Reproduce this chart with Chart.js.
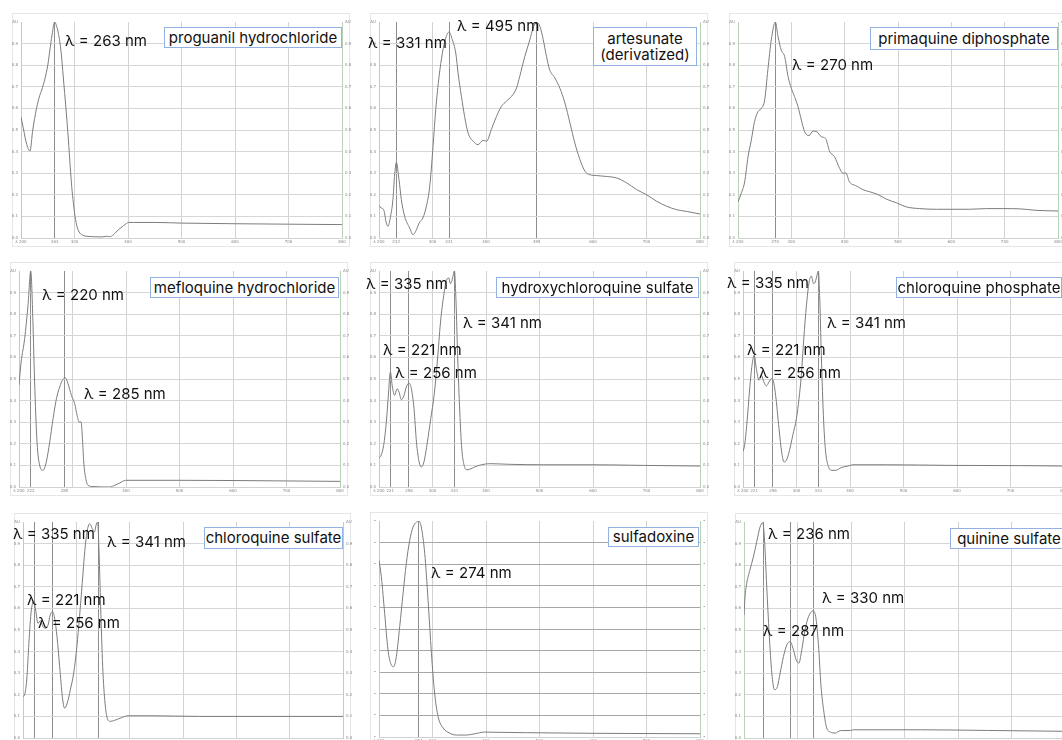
<!DOCTYPE html>
<html>
<head>
<meta charset="utf-8">
<script src="https://cdn.jsdelivr.net/npm/chart.js@4.4.0/dist/chart.umd.min.js"></script>
<style>
  body { margin: 0; width: 1062px; height: 740px; overflow: hidden; background: #fff; position: relative; font-family: Inter, "Noto Sans", sans-serif; }
  .panel { position: absolute; border: 1px solid #e6e6e6; background: #fff; box-sizing: border-box; }
  canvas { position: absolute; }
  .lbl { position: absolute; font-size: 15px; line-height: 1; color: #111; white-space: nowrap; }
  .box { position: absolute; border: 1px solid #93b1e2; background: #fff; font-size: 15px; line-height: 16px; color: #111; text-align: center; box-sizing: border-box; display: flex; flex-direction: column; justify-content: center; white-space: nowrap; }
</style>
</head>
<body>
<script>
// spectra (wavelength nm / absorbance AU)
const proguanilNm = [200, 205, 210, 216.8, 222, 229, 235, 238.7, 245, 250, 254, 258, 263, 266, 270, 275, 279, 284, 288.6, 292, 294.8, 298, 301, 305, 310, 316, 323, 335, 350, 360, 366, 372.8, 378, 382, 387, 391.5, 396, 400.9, 410, 450, 500, 600, 700, 800];
const proguanilAu = [0.56, 0.50, 0.44, 0.403, 0.50, 0.60, 0.66, 0.685, 0.74, 0.80, 0.87, 0.94, 1.0, 0.985, 0.946, 0.86, 0.746, 0.60, 0.454, 0.33, 0.238, 0.16, 0.10, 0.05, 0.023, 0.012, 0.008, 0.006, 0.005, 0.008, 0.006, 0.015, 0.028, 0.038, 0.048, 0.057, 0.065, 0.072, 0.072, 0.072, 0.069, 0.066, 0.064, 0.062];

const artesunateNm = [200, 204, 208.7, 213.7, 216.8, 221, 226, 229, 232.4, 237.4, 241.8, 248, 257.4, 263.6, 268.6, 275, 282, 288.6, 294.8, 301, 306, 312.3, 318.5, 324.8, 331, 337, 343.5, 347.8, 354, 360, 366.6, 376, 385, 394.6, 401, 410, 419.6, 429, 438, 447.7, 457, 463, 472.6, 482, 488, 495, 500.7, 507, 513, 519, 528.7, 538, 547.5, 557, 566, 575.6, 585, 594, 606.7, 625, 644, 663, 681.6, 700.3, 719, 737.7, 756.5, 775, 800];
const artesunateAu = [0.151, 0.139, 0.131, 0.069, 0.054, 0.093, 0.177, 0.285, 0.35, 0.27, 0.177, 0.10, 0.046, 0.015, 0.031, 0.069, 0.093, 0.147, 0.239, 0.424, 0.594, 0.748, 0.856, 0.926, 0.954, 0.918, 0.856, 0.764, 0.656, 0.563, 0.486, 0.448, 0.432, 0.452, 0.448, 0.502, 0.563, 0.61, 0.633, 0.656, 0.694, 0.748, 0.841, 0.918, 0.972, 0.998, 0.98, 0.918, 0.841, 0.779, 0.741, 0.694, 0.625, 0.532, 0.44, 0.363, 0.309, 0.293, 0.289, 0.285, 0.278, 0.255, 0.224, 0.2, 0.17, 0.147, 0.131, 0.123, 0.111];

const primaquineNm = [200, 206, 212.5, 218.8, 225, 231, 237.5, 243.8, 250, 256, 262.5, 270, 275, 281, 287.5, 293.8, 300, 306, 312.5, 318.8, 325, 333, 340.6, 348, 356, 364, 372, 381, 390.6, 397, 402, 409, 422, 434, 447, 462.5, 478, 497, 515.6, 540.6, 572, 603, 634, 665.6, 697, 728, 759, 800];
const primaquineAu = [0.167, 0.206, 0.26, 0.376, 0.454, 0.539, 0.585, 0.6, 0.639, 0.779, 0.918, 1.0, 0.933, 0.87, 0.84, 0.748, 0.693, 0.655, 0.608, 0.546, 0.492, 0.474, 0.495, 0.492, 0.469, 0.461, 0.4, 0.376, 0.322, 0.299, 0.302, 0.26, 0.241, 0.224, 0.214, 0.201, 0.18, 0.163, 0.144, 0.136, 0.133, 0.133, 0.133, 0.136, 0.136, 0.135, 0.128, 0.125];

const mefloquineNm = [200, 204, 210.6, 216.8, 222, 226, 229, 233.7, 238.7, 245, 251, 257.4, 263.6, 270, 276, 282, 286.7, 291.7, 298, 304, 308.6, 312.3, 316, 318.6, 321, 324.8, 329, 338.5, 369.7, 379, 388.4, 399.6, 500, 600, 700, 800];
const mefloquineAu = [0.471, 0.579, 0.687, 0.841, 1.0, 0.767, 0.5, 0.208, 0.1, 0.077, 0.116, 0.208, 0.316, 0.409, 0.463, 0.498, 0.505, 0.478, 0.424, 0.386, 0.332, 0.301, 0.301, 0.224, 0.116, 0.039, 0.008, 0.002, 0.0, 0.008, 0.019, 0.031, 0.031, 0.03, 0.028, 0.026];

const hydroxyNm = [200, 204, 208.7, 213.7, 217.5, 221.2, 225, 229.3, 233.7, 237.4, 241.8, 246.8, 251, 256, 260.5, 265.5, 270, 275, 279, 284, 290.4, 296.7, 303, 309, 315, 321, 326, 330.4, 333.5, 336.6, 341, 344, 347, 351, 354.7, 358.4, 363.4, 369.7, 379, 391.5, 407, 444.5, 507, 600, 694, 800];
const hydroxyAu = [0.134, 0.147, 0.193, 0.301, 0.424, 0.532, 0.463, 0.424, 0.455, 0.44, 0.404, 0.424, 0.463, 0.481, 0.455, 0.363, 0.208, 0.116, 0.093, 0.116, 0.208, 0.316, 0.424, 0.579, 0.764, 0.887, 0.957, 0.968, 0.941, 0.957, 1.0, 0.856, 0.61, 0.347, 0.177, 0.108, 0.08, 0.082, 0.093, 0.103, 0.108, 0.105, 0.103, 0.103, 0.1, 0.097];

const cqPhosNm = [200, 203, 207.5, 212.5, 216.8, 221, 224.9, 230, 234.3, 239, 243.6, 248.6, 253, 256, 261, 267.3, 272.3, 276.6, 281, 287, 293, 299.8, 304.7, 309, 313.6, 318.6, 323.6, 327.7, 332, 335, 338.3, 340.8, 343.3, 346.4, 350.8, 354.5, 359, 365, 373, 383.8, 396, 405.6, 468, 592.5, 717, 800];
const cqPhosAu = [0.165, 0.193, 0.301, 0.455, 0.563, 0.61, 0.548, 0.494, 0.517, 0.486, 0.468, 0.486, 0.502, 0.497, 0.424, 0.27, 0.162, 0.116, 0.123, 0.17, 0.239, 0.316, 0.409, 0.517, 0.687, 0.841, 0.949, 0.977, 0.941, 0.949, 0.98, 1.0, 0.887, 0.61, 0.301, 0.162, 0.1, 0.077, 0.077, 0.09, 0.097, 0.103, 0.103, 0.1, 0.099, 0.097];

const cqSulfNm = [200, 203, 207.5, 211, 215.6, 220.6, 223.75, 228, 232.5, 237.5, 242.5, 247, 251, 255, 259.4, 263.75, 268.75, 273.75, 278, 283, 288.75, 295, 301, 306, 311, 316, 320, 325, 330, 334, 337, 340, 342.5, 345.6, 349.4, 353.75, 358, 363.75, 372, 382.5, 397, 437.5, 531, 656, 800];
const cqSulfAu = [0.192, 0.2, 0.285, 0.438, 0.592, 0.631, 0.592, 0.531, 0.543, 0.515, 0.508, 0.523, 0.569, 0.585, 0.554, 0.469, 0.331, 0.192, 0.138, 0.162, 0.223, 0.3, 0.423, 0.562, 0.715, 0.869, 0.954, 0.992, 0.969, 0.954, 0.985, 1.0, 0.869, 0.608, 0.331, 0.162, 0.092, 0.077, 0.082, 0.092, 0.103, 0.103, 0.1, 0.1, 0.1];

const sulfadoxineNm = [200, 204.4, 210.6, 216.8, 223, 227.4, 232.4, 238.7, 245, 251, 257.4, 263.6, 270, 274.3, 279, 285.5, 291.7, 298, 304, 310.4, 319.8, 332, 344.7, 363.4, 379, 397.7, 413.3, 475.7, 600, 800];
const sulfadoxineAu = [0.818, 0.742, 0.572, 0.403, 0.334, 0.326, 0.372, 0.511, 0.665, 0.803, 0.911, 0.972, 0.995, 1.0, 0.972, 0.849, 0.634, 0.388, 0.203, 0.095, 0.042, 0.018, 0.009, 0.009, 0.015, 0.023, 0.022, 0.02, 0.017, 0.015];

const quinineNm = [200, 201.9, 205, 211, 217.5, 223.75, 230, 235, 238, 242.5, 247, 252, 257, 262.5, 267.5, 273.75, 280, 286, 292.5, 297.5, 302.5, 308, 314, 320.6, 328.75, 334, 339, 344, 348.75, 353.75, 361, 370.6, 380, 399, 405, 530, 655, 800];
const quinineAu = [0.569, 0.654, 0.715, 0.777, 0.838, 0.908, 0.977, 0.997, 0.931, 0.7, 0.485, 0.3, 0.223, 0.238, 0.3, 0.377, 0.431, 0.446, 0.408, 0.362, 0.346, 0.408, 0.5, 0.562, 0.588, 0.562, 0.438, 0.238, 0.131, 0.054, 0.028, 0.023, 0.034, 0.035, 0.038, 0.038, 0.035, 0.031];

// x ticks and peak markers
const proguanilTicks = [200, 263, 300, 400, 500, 600, 700, 800];
const proguanilPeaks = [263];
const artesunateTicks = [200, 232, 300, 331, 400, 495, 600, 700, 800];
const artesunatePeaks = [232, 331, 495];
const primaquineTicks = [200, 270, 300, 400, 500, 600, 700, 800];
const primaquinePeaks = [270];
const mefloquineTicks = [200, 222, 285, 300, 400, 500, 600, 700, 800];
const mefloquineTickLabels = ['λ 200', '222', '285', '', '400', '500', '600', '700', '800'];
const mefloquinePeaks = [222, 285];
const cqTicks = [200, 221, 256, 300, 341, 400, 500, 600, 700, 800];
const cqPeaks = [221, 256, 341];
const sulfadoxineTicks = [200, 274, 300, 400, 500, 600, 700, 800];
const sulfadoxinePeaks = [274];
const quinineTicks = [200, 236, 287, 300, 330, 400, 500, 600, 700, 800];
const quininePeaks = [236, 287, 330];
const auTicks = [0, 0.1, 0.2, 0.3, 0.4, 0.5, 0.6, 0.7, 0.8, 0.9, 1.0];

function defaultLabels(ticks) {
  return ticks.map(v => v === 200 ? 'λ 200' : String(v));
}

// plot rects: left(200nm), top(1.0), width, height
const panels = [
  { nm: proguanilNm, au: proguanilAu, ticks: proguanilTicks, labels: defaultLabels(proguanilTicks), peaks: proguanilPeaks, rect: [21, 22, 321, 216] },
  { nm: artesunateNm, au: artesunateAu, ticks: artesunateTicks, labels: defaultLabels(artesunateTicks), peaks: artesunatePeaks, rect: [379, 22, 321, 216] },
  { nm: primaquineNm, au: primaquineAu, ticks: primaquineTicks, labels: defaultLabels(primaquineTicks), peaks: primaquinePeaks, rect: [738, 22, 320, 216] },
  { nm: mefloquineNm, au: mefloquineAu, ticks: mefloquineTicks, labels: mefloquineTickLabels, peaks: mefloquinePeaks, rect: [19, 271, 321, 216] },
  { nm: hydroxyNm, au: hydroxyAu, ticks: cqTicks, labels: defaultLabels(cqTicks), peaks: cqPeaks, rect: [379, 271, 321, 216] },
  { nm: cqPhosNm, au: cqPhosAu, ticks: cqTicks, labels: defaultLabels(cqTicks), peaks: cqPeaks, rect: [743, 271, 321, 216] },
  { nm: cqSulfNm, au: cqSulfAu, ticks: cqTicks, labels: defaultLabels(cqTicks), peaks: cqPeaks, rect: [23, 522, 320, 216] },
  { nm: sulfadoxineNm, au: sulfadoxineAu, ticks: sulfadoxineTicks, labels: defaultLabels(sulfadoxineTicks), peaks: sulfadoxinePeaks, rect: [379, 521, 321, 216], dots: true },
  { nm: quinineNm, au: quinineAu, ticks: quinineTicks, labels: defaultLabels(quinineTicks), peaks: quininePeaks, rect: [744, 522, 321, 216] }
];

// peak annotations [text, left, top]
const notes = [
  ['λ = 263 nm', 65, 33],
  ['λ = 495 nm', 457, 18], ['λ = 331 nm', 368, 35],
  ['λ = 270 nm', 792, 57],
  ['λ = 220 nm', 42, 287], ['λ = 285 nm', 84, 386],
  ['λ = 335 nm', 366, 276], ['λ = 341 nm', 463, 315], ['λ = 221 nm', 383, 342], ['λ = 256 nm', 395, 365],
  ['λ = 335 nm', 727, 275], ['λ = 341 nm', 827, 315], ['λ = 221 nm', 747, 342], ['λ = 256 nm', 759, 365],
  ['λ = 335 nm', 13, 526], ['λ = 341 nm', 107, 534], ['λ = 221 nm', 27, 592], ['λ = 256 nm', 38, 615],
  ['λ = 274 nm', 431, 565],
  ['λ = 236 nm', 768, 526], ['λ = 330 nm', 822, 590], ['λ = 287 nm', 763, 623]
];

// compound name boxes [lines, left, top, width, height]
const names = [
  [['proguanil hydrochloride'], 164, 27, 178, 21],
  [['artesunate', '(derivatized)'], 593, 27, 104, 39],
  [['primaquine diphosphate'], 870, 27, 188, 23],
  [['mefloquine hydrochloride'], 150, 277, 189, 21],
  [['hydroxychloroquine sulfate'], 496, 277, 203, 21],
  [['chloroquine phosphate'], 896, 277, 166, 21],
  [['chloroquine sulfate'], 204, 527, 139, 22],
  [['sulfadoxine'], 608, 527, 91, 20],
  [['quinine sulfate'], 950, 528, 118, 21]
];

const axisGreen = '#b7d3b7';

panels.forEach((p, i) => {
  const [L, T, W, H] = p.rect;
  const frame = document.createElement('div');
  frame.className = 'panel';
  frame.style.left = (L - 9) + 'px';
  frame.style.top = (T - 9) + 'px';
  frame.style.width = (W + 17) + 'px';
  frame.style.height = (H + 18) + 'px';
  document.body.appendChild(frame);

  const cv = document.createElement('canvas');
  cv.width = W + 24;
  cv.height = H + 17;
  cv.style.left = (L - 12) + 'px';
  cv.style.top = (T - 8) + 'px';
  document.body.appendChild(cv);

  const yLabel = v => p.dots ? '•' : (v >= 0.999 ? 'AU' : v.toFixed(1));
  const tickFont = { size: 4, family: 'DejaVu Sans' };

  new Chart(cv.getContext('2d'), {
    type: 'line',
    data: {
      datasets: [{
        data: p.nm.map((x, k) => ({ x: x, y: p.au[k] })),
        borderColor: '#7c7c7c',
        borderWidth: 1,
        pointRadius: 0,
        cubicInterpolationMode: 'monotone',
        fill: false
      }]
    },
    options: {
      responsive: false,
      animation: false,
      events: [],
      layout: { padding: { top: 8, left: 0, right: 0, bottom: 0 } },
      plugins: { legend: { display: false }, tooltip: { enabled: false } },
      scales: {
        x: {
          type: 'linear',
          min: 200,
          max: 800,
          afterBuildTicks: axis => { axis.ticks = p.ticks.map(v => ({ value: v })); },
          afterFit: axis => { axis.height = 9; },
          ticks: {
            autoSkip: false,
            maxRotation: 0,
            padding: 2,
            font: tickFont,
            color: '#888',
            callback: (v, idx) => p.labels[idx]
          },
          grid: {
            drawTicks: false,
            color: ctx => {
              const v = ctx.tick && ctx.tick.value;
              if (v === 200 || v === 800) return 'rgba(0,0,0,0)';
              return p.peaks.includes(v) ? '#8e8e8e' : '#d2d2d2';
            }
          },
          border: { color: '#d2d2d2' }
        },
        y: {
          min: 0,
          max: 1,
          afterBuildTicks: axis => { axis.ticks = auTicks.map(v => ({ value: v })); },
          afterFit: axis => { axis.width = 12; },
          ticks: { padding: 3, font: tickFont, color: '#888', callback: yLabel },
          grid: {
            drawTicks: false,
            color: ctx => (ctx.tick && ctx.tick.value >= 0.999) ? 'rgba(0,0,0,0)' : (p.dots ? '#a6a6a6' : '#d6d6d6')
          },
          border: { color: axisGreen }
        },
        y2: {
          position: 'right',
          min: 0,
          max: 1,
          afterBuildTicks: axis => { axis.ticks = auTicks.map(v => ({ value: v })); },
          afterFit: axis => { axis.width = 12; },
          ticks: { padding: 3, font: tickFont, color: '#888', callback: yLabel },
          grid: { display: false, drawTicks: false },
          border: { color: axisGreen }
        }
      }
    }
  });
});

notes.forEach(([text, x, y]) => {
  const d = document.createElement('div');
  d.className = 'lbl';
  d.textContent = text;
  d.style.left = x + 'px';
  d.style.top = y + 'px';
  document.body.appendChild(d);
});

names.forEach(([lines, x, y, w, h]) => {
  const d = document.createElement('div');
  d.className = 'box';
  d.style.left = x + 'px';
  d.style.top = y + 'px';
  d.style.width = w + 'px';
  d.style.height = h + 'px';
  lines.forEach(t => {
    const s = document.createElement('div');
    s.textContent = t;
    d.appendChild(s);
  });
  document.body.appendChild(d);
});
</script>
</body>
</html>
